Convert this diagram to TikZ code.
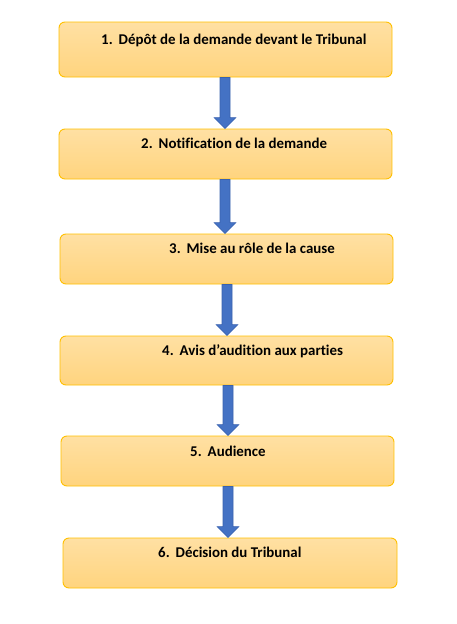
\documentclass[tikz,border=0pt]{standalone}
\usepackage{fontspec}
\setmainfont[Ligatures=CommonOff]{Carlito}
\usetikzlibrary{calc}
\definecolor{boxtop}{HTML}{FFE0A3}
\definecolor{boxbot}{HTML}{FFD47E}
\definecolor{boxline}{HTML}{FFC000}
\definecolor{arrfill}{HTML}{4472C4}
\definecolor{arrline}{HTML}{3A62AE}
\tikzset{
  box/.style={draw=boxline, line width=0.9pt, rounded corners=6pt, top color=boxtop, bottom color=boxbot, minimum width=333pt, minimum height=50pt, inner sep=0pt},
  label/.style={anchor=base west, inner sep=0pt, font=\fontsize{14.9}{17}\selectfont\bfseries, text=black},
  barrow/.style={fill=arrfill, draw=arrline, line width=0.6pt, line join=miter}
}
\newcommand\blockarrow[3]{%
  \draw[barrow] let \p1=(#1.south), \p2=(#2.north) in
    (#3pt-5pt,\y1) -- (#3pt+5pt,\y1) -- (#3pt+5pt,\y2+11pt) -- (#3pt+11pt,\y2+11pt)
    -- (#3pt,\y2) -- (#3pt-11pt,\y2+11pt) -- (#3pt-5pt,\y2+11pt) -- cycle;}
\begin{document}
\begin{tikzpicture}[x=1pt,y=-1pt]
\useasboundingbox (0,0) rectangle (457,624);
\node[box, minimum height=55pt] (b1) at (225.5,49.5) {};
\node[box] (b2) at (225.5,154) {};
\node[box] (b3) at (226.5,259) {};
\node[box, minimum height=49pt] (b4) at (226.5,360.5) {};
\node[box] (b5) at (227.5,461) {};
\node[box, minimum width=334pt] (b6) at (230,563) {};
\node[label] (t1) at (101,44) {1.\hspace{6pt}Dépôt de la demande devant le Tribunal};
\node[label] (t2) at (141,148) {2.\hspace{6pt}Notification de la demande};
\node[label] (t3) at (169,253) {3.\hspace{6pt}Mise au rôle de la cause};
\node[label] (t4) at (162,355) {4.\hspace{6pt}Avis d’audition aux parties};
\node[label] (t5) at (190,456) {5.\hspace{6pt}Audience};
\node[label] (t6) at (158,557) {6.\hspace{6pt}Décision du Tribunal};
\blockarrow{b1}{b2}{225}
\blockarrow{b2}{b3}{225}
\blockarrow{b3}{b4}{227}
\blockarrow{b4}{b5}{228}
\blockarrow{b5}{b6}{228}
\end{tikzpicture}
\end{document}
